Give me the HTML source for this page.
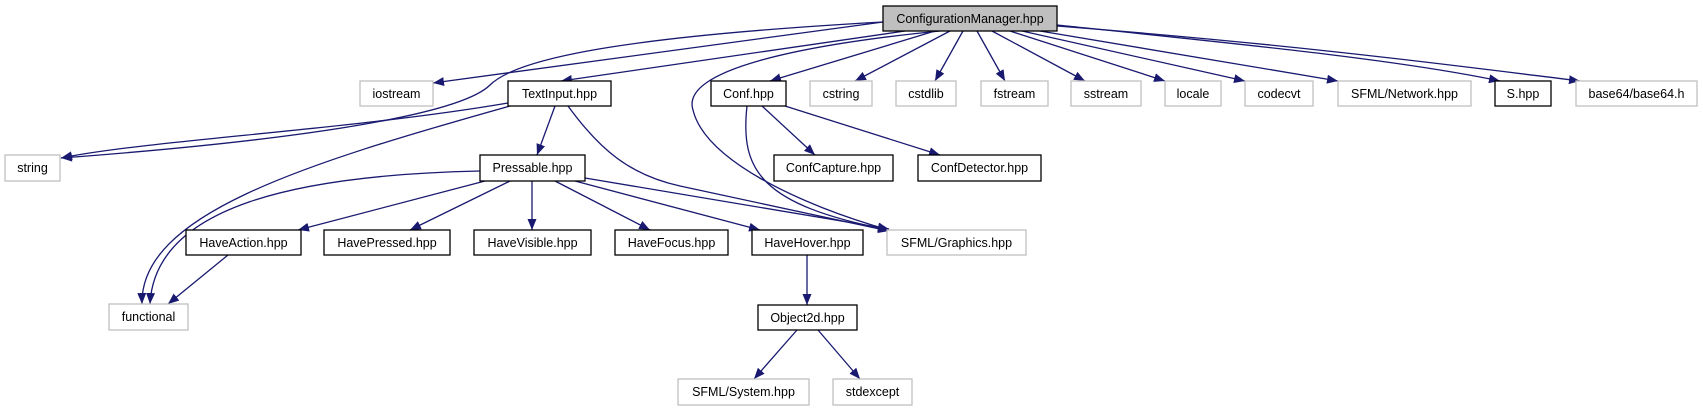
<!DOCTYPE html>
<html><head><meta charset="utf-8"><style>
html,body{margin:0;padding:0;background:#fff;}
svg{display:block;}
text{font-family:"Liberation Sans",Arial,sans-serif;font-size:12.5px;fill:#000;text-anchor:middle;}
.e{fill:none;stroke:#191970;stroke-width:1.3;marker-end:url(#a);}
.b{fill:#fff;stroke:#000;stroke-width:1.3;}
.g{fill:#fff;stroke:#bfbfbf;stroke-width:1.3;}
</style></head><body>
<svg width="1703" height="411" viewBox="0 0 1703 411" xmlns="http://www.w3.org/2000/svg">
<defs><marker id="a" markerUnits="userSpaceOnUse" markerWidth="12" markerHeight="9" refX="11" refY="4.5" orient="auto"><path d="M0,0 L11,4.5 L0,9 z" fill="#191970"/></marker></defs>
<!-- edges -->
<path class="e" d="M883,22 L433,83"/>
<path class="e" d="M883,22 C650,35 520,55 490,85 C460,115 300,140 61,158"/>
<path class="e" d="M905,31 L561,81"/>
<path class="e" d="M935,31 L770,81"/>
<path class="e" d="M950,31 L855,81"/>
<path class="e" d="M963,31 L935,81"/>
<path class="e" d="M977,31 L1005,81"/>
<path class="e" d="M992,31 L1085,81"/>
<path class="e" d="M1010,31 L1165,81"/>
<path class="e" d="M1022,31 L1245,81"/>
<path class="e" d="M1040,31 L1338,81"/>
<path class="e" d="M1057,25 C1250,45 1400,60 1500,81"/>
<path class="e" d="M1057,26 C1300,45 1450,65 1580,81"/>
<path class="e" d="M940,31 C800,45 680,70 693,110 C705,160 800,205 889,230"/>
<path class="e" d="M508,103 C350,130 150,140 61,158"/>
<path class="e" d="M510,106 C300,165 140,215 142,304"/>
<path class="e" d="M480,171 C300,175 155,205 150,304"/>
<path class="e" d="M228,255 L168,304"/>
<path class="e" d="M555,106 L537,155"/>
<path class="e" d="M568,106 C600,150 630,175 680,186 L889,231"/>
<path class="e" d="M485,181 L298,230"/>
<path class="e" d="M510,181 L410,230"/>
<path class="e" d="M532,181 L532,230"/>
<path class="e" d="M555,181 L650,230"/>
<path class="e" d="M575,181 L760,230"/>
<path class="e" d="M585,178 L889,229"/>
<path class="e" d="M762,106 L815,155"/>
<path class="e" d="M785,106 L940,155"/>
<path class="e" d="M747,106 C740,170 760,205 889,230"/>
<path class="e" d="M807,255 L807,305"/>
<path class="e" d="M797,330 L754,379"/>
<path class="e" d="M818,330 L860,379"/>
<!-- nodes -->
<rect x="883" y="6" width="174" height="25" fill="#bfbfbf" stroke="#000" stroke-width="1.3"/><text x="970" y="23">ConfigurationManager.hpp</text>
<rect class="g" x="360" y="81" width="73" height="25"/><text x="396.5" y="98">iostream</text>
<rect class="b" x="508" y="81" width="103" height="25"/><text x="559.5" y="98">TextInput.hpp</text>
<rect class="b" x="711" y="81" width="75" height="25"/><text x="748.5" y="98">Conf.hpp</text>
<rect class="g" x="810" y="81" width="62" height="25"/><text x="841" y="98">cstring</text>
<rect class="g" x="896" y="81" width="60" height="25"/><text x="926" y="98">cstdlib</text>
<rect class="g" x="981" y="81" width="67" height="25"/><text x="1014.5" y="98">fstream</text>
<rect class="g" x="1071" y="81" width="70" height="25"/><text x="1106" y="98">sstream</text>
<rect class="g" x="1165" y="81" width="56" height="25"/><text x="1193" y="98">locale</text>
<rect class="g" x="1245" y="81" width="68" height="25"/><text x="1279" y="98">codecvt</text>
<rect class="g" x="1338" y="81" width="133" height="25"/><text x="1404.5" y="98">SFML/Network.hpp</text>
<rect class="b" x="1495" y="81" width="56" height="25"/><text x="1523" y="98">S.hpp</text>
<rect class="g" x="1576" y="81" width="121" height="25"/><text x="1636.5" y="98">base64/base64.h</text>
<rect class="g" x="5" y="155" width="55" height="26"/><text x="32.5" y="172">string</text>
<rect class="b" x="480" y="155" width="105" height="26"/><text x="532.5" y="172">Pressable.hpp</text>
<rect class="b" x="774" y="155" width="119" height="26"/><text x="833.5" y="172">ConfCapture.hpp</text>
<rect class="b" x="918" y="155" width="123" height="26"/><text x="979.5" y="172">ConfDetector.hpp</text>
<rect class="b" x="186" y="230" width="115" height="25"/><text x="243.5" y="247">HaveAction.hpp</text>
<rect class="b" x="324" y="230" width="126" height="25"/><text x="387" y="247">HavePressed.hpp</text>
<rect class="b" x="474" y="230" width="117" height="25"/><text x="532.5" y="247">HaveVisible.hpp</text>
<rect class="b" x="615" y="230" width="113" height="25"/><text x="671.5" y="247">HaveFocus.hpp</text>
<rect class="b" x="752" y="230" width="111" height="25"/><text x="807.5" y="247">HaveHover.hpp</text>
<rect class="g" x="887" y="230" width="139" height="25"/><text x="956.5" y="247">SFML/Graphics.hpp</text>
<rect class="g" x="109" y="304" width="79" height="26"/><text x="148.5" y="321">functional</text>
<rect class="b" x="758" y="305" width="99" height="25"/><text x="807.5" y="322">Object2d.hpp</text>
<rect class="g" x="678" y="379" width="131" height="26"/><text x="743.5" y="396">SFML/System.hpp</text>
<rect class="g" x="833" y="379" width="79" height="26"/><text x="872.5" y="396">stdexcept</text>
</svg>
</body></html>
